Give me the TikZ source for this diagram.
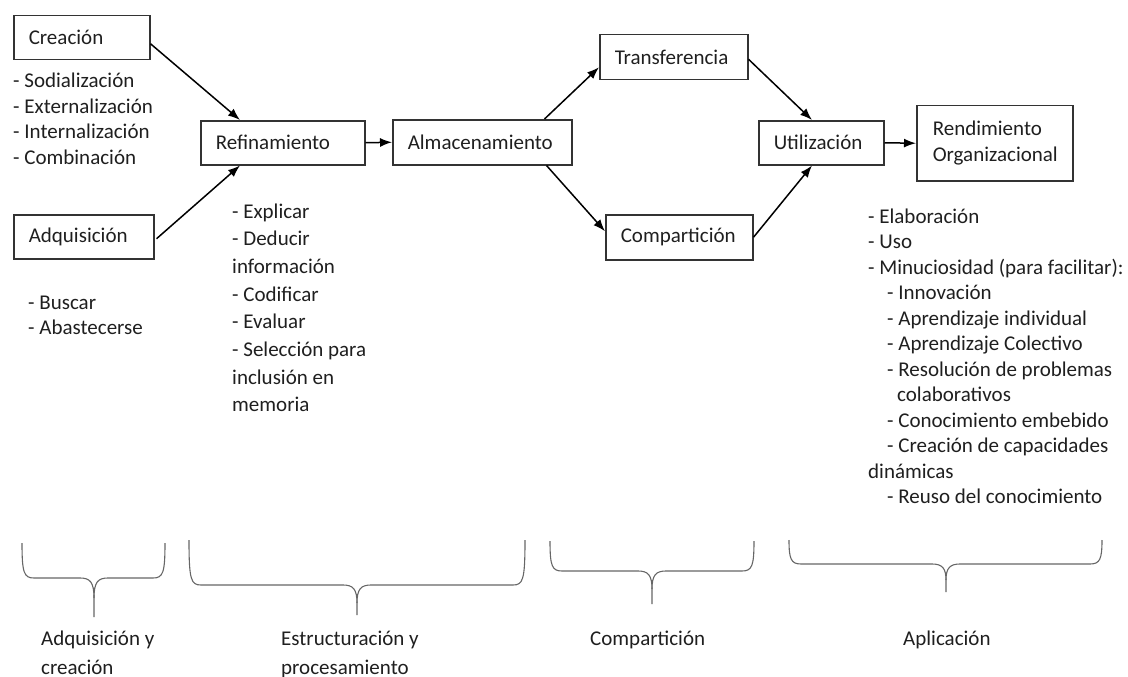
\documentclass[tikz,border=0pt]{standalone}
\usepackage{fontspec}
\setmainfont{Carlito}
\usetikzlibrary{arrows.meta}
% a left-aligned column whose baseline is that of its first line
\newcommand{\notelines}[1]{\begin{tabular}[t]{@{}l@{}}#1\end{tabular}}
\begin{document}
\begin{tikzpicture}[x=1pt,y=-1pt,
  every node/.style={font=\fontsize{21}{25.5}\selectfont, text=black!88},
  stage/.style={draw=black!80, line width=1.5pt, anchor=north west, align=left,
    inner xsep=15pt, inner ysep=0pt},
  flow/.style={line width=1.5pt, -{Latex[length=12pt,width=9pt]}},
  notes/.style={anchor=base west, inner sep=0pt},
  phase/.style={anchor=base west, inner sep=0pt,
    font=\fontsize{21}{29}\selectfont},
  brace/.style={draw=black!60, line width=1.1pt},
]
\useasboundingbox (0,0) rectangle (1128,677);

% process stages
\node[stage, text width=106pt, minimum height=44pt] (crea) at (13,15) {Creación};
\node[stage, text width=110pt, minimum height=44pt] (adq) at (13,214) {Adquisición};
\node[stage, text width=134pt, minimum height=44pt] (refi) at (200,120) {Refinamiento};
\node[stage, text width=149pt, minimum height=45pt] (alma) at (392,119) {Almacenamiento};
\node[stage, text width=118pt, minimum height=45pt] (tran) at (599,34) {Transferencia};
\node[stage, text width=117pt, minimum height=45pt] (comp) at (605,214) {Compartición};
\node[stage, text width=95pt, minimum height=44pt] (util) at (758,120) {Utilización};
\node[stage, text width=124pt, minimum height=75pt, inner xsep=16pt] (rend) at (916,105)
  {Rendimiento\\Organizacional};

% flows between stages
\draw[flow] ([yshift=-6pt]crea.east) -- ([xshift=40pt]refi.north west);
\draw[flow] ([xshift=2pt,yshift=-2pt]adq.east) -- ([xshift=40pt]refi.south west);
\draw[flow] (refi.east) -- (alma.west);
\draw[flow] ([xshift=-28pt]alma.north east) -- ([yshift=-10pt]tran.west);
\draw[flow] ([xshift=-26pt]alma.south east) -- ([yshift=6pt]comp.west);
\draw[flow] ([yshift=-2pt]tran.east) -- ([xshift=54pt]util.north west);
\draw[flow] (comp.east) -- ([xshift=54pt]util.south west);
\draw[flow] (util.east) -- (rend.west);

% activities under each stage
\node[notes] (creanotes) at (13,88)
  {\notelines{- Sodialización\\- Externalización\\- Internalización\\- Combinación}};
\node[notes] (adqnotes) at (28,309) {\notelines{- Buscar\\- Abastecerse}};
\node[notes, font=\fontsize{21}{27.7}\selectfont] (refinotes) at (232,218)
  {\notelines{- Explicar\\- Deducir\\información\\- Codificar\\- Evaluar\\- Selección para\\inclusión en\\memoria}};
\node[notes] (utilnotes) at (868,223)
  {\notelines{- Elaboración\\- Uso\\- Minuciosidad (para facilitar):\\
   \hspace*{19pt}- Innovación\\
   \hspace*{19pt}- Aprendizaje individual\\
   \hspace*{19pt}- Aprendizaje Colectivo\\
   \hspace*{19pt}- Resolución de problemas\\
   \hspace*{29pt}colaborativos\\
   \hspace*{19pt}- Conocimiento embebido\\
   \hspace*{19pt}- Creación de capacidades\\
   dinámicas\\
   \hspace*{19pt}- Reuso del conocimiento}};

% phase braces
\draw[brace] (22,543) .. controls (22,573) and (24,578) .. (34,578) -- (80,578)
  .. controls (90,578) and (94,582) .. (94,598) -- (94,617);
\draw[brace] (94,598) .. controls (94,582) and (98,578) .. (108,578) -- (153,578)
  .. controls (163,578) and (165,573) .. (165,543);
\draw[brace] (189,540) .. controls (189,580) and (191,585) .. (201,585) -- (343,585)
  .. controls (353,585) and (357,589) .. (357,603) -- (357,615);
\draw[brace] (357,603) .. controls (357,589) and (361,585) .. (371,585) -- (513,585)
  .. controls (523,585) and (525,580) .. (525,540);
\draw[brace] (550,541) .. controls (550,566) and (552,571) .. (562,571) -- (638,571)
  .. controls (648,571) and (652,575) .. (652,589) -- (652,604);
\draw[brace] (652,589) .. controls (652,575) and (656,571) .. (666,571) -- (742,571)
  .. controls (752,571) and (754,566) .. (754,541);
\draw[brace] (789,540) .. controls (789,559) and (791,564) .. (801,564) -- (932,564)
  .. controls (942,564) and (946,568) .. (946,580) -- (946,592);
\draw[brace] (946,580) .. controls (946,568) and (950,564) .. (960,564) -- (1090,564)
  .. controls (1100,564) and (1102,559) .. (1102,540);

% phase names
\node[phase] (ph1) at (41,645) {\notelines{Adquisición y\\creación}};
\node[phase] (ph2) at (281,645) {\notelines{Estructuración y\\procesamiento}};
\node[phase] (ph3) at (590,645) {Compartición};
\node[phase] (ph4) at (903,645) {Aplicación};
\end{tikzpicture}
\end{document}
